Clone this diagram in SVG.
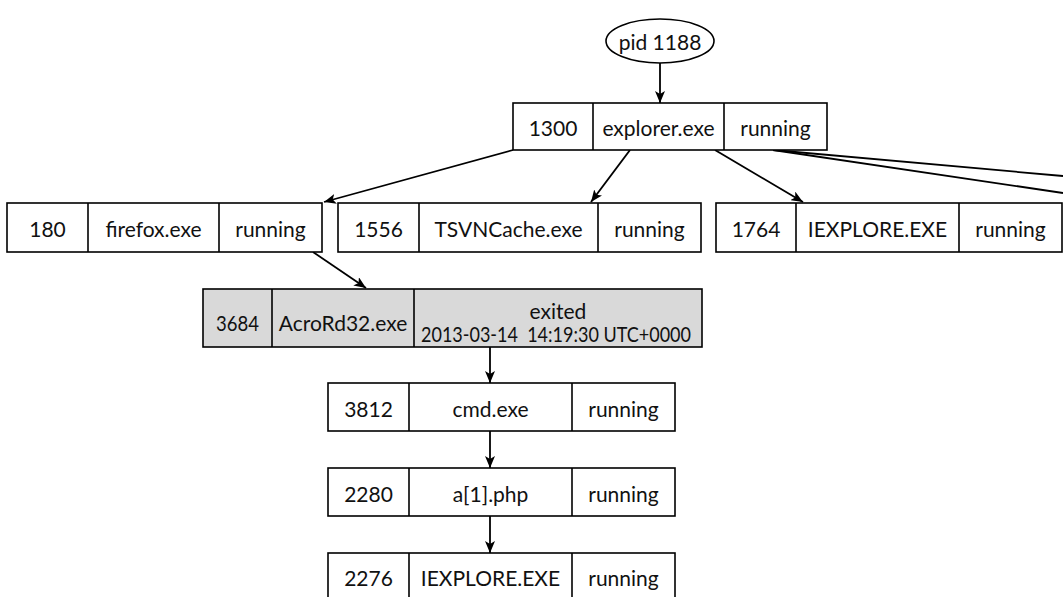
<svg xmlns="http://www.w3.org/2000/svg" width="1063" height="597" viewBox="0 0 1063 597">
<style>
.b{fill:#fff;stroke:#000;stroke-width:1.6}
.g{fill:#d9d9d9;stroke:#000;stroke-width:1.6}
.d{stroke:#000;stroke-width:1.6}
text{font-family:Lato,"Noto Sans","Liberation Sans",sans-serif;font-size:21px;fill:#111;text-anchor:middle;dominant-baseline:central}
.e{fill:none;stroke:#000;stroke-width:1.8}
</style>
<defs>
<marker id="a" viewBox="0 0 12 10" refX="12" refY="5" markerWidth="12" markerHeight="10" markerUnits="userSpaceOnUse" orient="auto">
<path d="M0,0 L12,5 L0,10 L3,5 Z" fill="#000"/>
</marker>
</defs>
<g id="connectors">
<path class="e" d="M660,63 L660,103" marker-end="url(#a)"/>
<path class="e" d="M513,150 L324,202" marker-end="url(#a)"/>
<path class="e" d="M630,150 L591,202" marker-end="url(#a)"/>
<path class="e" d="M715,150 L803,202" marker-end="url(#a)"/>
<path class="e" d="M773,150 L1063,176"/>
<path class="e" d="M773,150 L1063,193"/>
<path class="e" d="M313,252 L366,288" marker-end="url(#a)"/>
<path class="e" d="M490,347 L490,383" marker-end="url(#a)"/>
<path class="e" d="M490,431 L490,468" marker-end="url(#a)"/>
<path class="e" d="M490,516 L490,553" marker-end="url(#a)"/>
</g>
<g id="pid1188">
<ellipse cx="660" cy="41" rx="54" ry="22" fill="#fff" stroke="#000" stroke-width="1.6"/>
<text x="660" y="41">pid 1188</text>
</g>
<g id="p1300">
<rect class="b" x="513" y="103" width="314" height="47"/>
<line class="d" x1="593" y1="103" x2="593" y2="150"/>
<line class="d" x1="724" y1="103" x2="724" y2="150"/>
<text x="553" y="127">1300</text><text x="658.5" y="127">explorer.exe</text><text x="775.5" y="127">running</text>
</g>
<g id="p180">
<rect class="b" x="7" y="203" width="315" height="49"/>
<line class="d" x1="88" y1="203" x2="88" y2="252"/>
<line class="d" x1="219" y1="203" x2="219" y2="252"/>
<text x="47.5" y="228">180</text><text x="153.5" y="228">firefox.exe</text><text x="270.5" y="228">running</text>
</g>
<g id="p1556">
<rect class="b" x="338" y="203" width="363" height="49"/>
<line class="d" x1="419" y1="203" x2="419" y2="252"/>
<line class="d" x1="598" y1="203" x2="598" y2="252"/>
<text x="378.5" y="228">1556</text><text x="508.5" y="228">TSVNCache.exe</text><text x="649.5" y="228">running</text>
</g>
<g id="p1764">
<rect class="b" x="716" y="203" width="346" height="49"/>
<line class="d" x1="796" y1="203" x2="796" y2="252"/>
<line class="d" x1="959" y1="203" x2="959" y2="252"/>
<text x="756" y="228">1764</text><text x="877.5" y="228">IEXPLORE.EXE</text><text x="1010.5" y="228">running</text>
</g>
<g id="p3684">
<rect class="g" x="203" y="289" width="499" height="58"/>
<line class="d" x1="272" y1="289" x2="272" y2="347"/>
<line class="d" x1="414" y1="289" x2="414" y2="347"/>
<text x="237.5" y="322" textLength="43" lengthAdjust="spacingAndGlyphs">3684</text><text x="343" y="322">AcroRd32.exe</text>
<text x="558" y="310">exited</text><text x="556" y="333" xml:space="preserve" textLength="270" lengthAdjust="spacingAndGlyphs">2013-03-14  14:19:30 UTC+0000</text>
</g>
<g id="p3812">
<rect class="b" x="328" y="383" width="347" height="48"/>
<line class="d" x1="409" y1="383" x2="409" y2="431"/>
<line class="d" x1="572" y1="383" x2="572" y2="431"/>
<text x="368.5" y="408">3812</text><text x="490.5" y="408">cmd.exe</text><text x="623.5" y="408">running</text>
</g>
<g id="p2280">
<rect class="b" x="328" y="468" width="347" height="48"/>
<line class="d" x1="409" y1="468" x2="409" y2="516"/>
<line class="d" x1="572" y1="468" x2="572" y2="516"/>
<text x="368.5" y="493">2280</text><text x="490.5" y="493">a[1].php</text><text x="623.5" y="493">running</text>
</g>
<g id="p2276">
<rect class="b" x="328" y="553" width="347" height="48"/>
<line class="d" x1="409" y1="553" x2="409" y2="601"/>
<line class="d" x1="572" y1="553" x2="572" y2="601"/>
<text x="368.5" y="577">2276</text><text x="490.5" y="577">IEXPLORE.EXE</text><text x="623.5" y="577">running</text>
</g>
</svg>
